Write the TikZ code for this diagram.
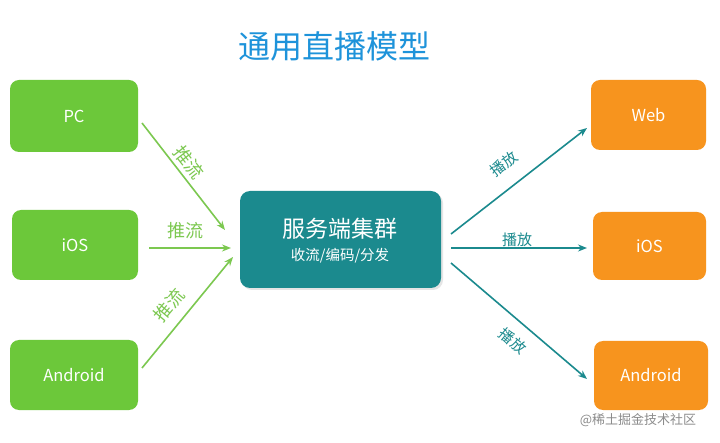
\documentclass[tikz,border=0pt]{standalone}
\usepackage{fontspec}
\setmainfont{Noto Sans CJK SC}
\usetikzlibrary{arrows.meta}
\definecolor{gbox}{HTML}{6CC83A}
\definecolor{garrow}{HTML}{7CC850}
\definecolor{tbox}{HTML}{1B8A8E}
\definecolor{obox}{HTML}{F7941E}
\definecolor{tblue}{HTML}{1E93DA}
\begin{document}
\begin{tikzpicture}[x=1pt,y=-1pt,
  dev/.style={rounded corners=9pt, inner sep=0pt, text=white, font=\fontsize{16.5}{18}\selectfont},
  gdev/.style={dev, fill=gbox},
  odev/.style={dev, fill=obox},
  push/.style={draw=garrow, line width=1.6pt, -{Stealth[length=9pt,width=7pt]}},
  play/.style={draw=tbox, line width=1.6pt, -{Stealth[length=9pt,width=7pt]}},
  plab/.style={text=garrow, inner sep=1pt, font=\fontsize{18}{20}\selectfont},
  tlab/.style={text=tbox, inner sep=1pt, font=\fontsize{15}{17}\selectfont}]
\useasboundingbox (0,0) rectangle (720,443);
\fill[white] (0,0) rectangle (720,443);
\node[text=tblue, font=\fontsize{32}{36}\selectfont] (title) at (334,46) {通用直播模型};
% left devices
\node[gdev, minimum width=128pt, minimum height=72pt] (pc) at (74,116) {PC};
\node[gdev, minimum width=126pt, minimum height=70pt] (ios1) at (75,245) {iOS};
\node[gdev, minimum width=128pt, minimum height=70pt] (and1) at (74,375) {Android};
% center
\fill[black!10, rounded corners=10pt] (242,193) rectangle (443,290);
\node[fill=tbox, rounded corners=10pt, minimum width=201pt, minimum height=97pt, inner sep=0pt] (srv) at (340.5,239.5) {};
\node[text=white, font=\fontsize{23}{25}\selectfont] (srvt) at (340,229) {服务端集群};
\node[text=white, font=\fontsize{14.5}{16}\selectfont] (srvs) at (340,256) {收流/编码/分发};
% right devices
\node[odev, minimum width=115pt, minimum height=70pt] (web) at (648.5,115) {Web};
\node[odev, minimum width=113pt, minimum height=68pt] (ios2) at (649.5,246) {iOS};
\node[odev, minimum width=114pt, minimum height=69pt] (and2) at (651,375.5) {Android};
% coordinates for arrows
\coordinate (p1s) at (142,123); \coordinate (p1e) at (225,230);
\coordinate (p2s) at (149,248); \coordinate (p2e) at (231,248);
\coordinate (p3s) at (142,368); \coordinate (p3e) at (233,257);
\coordinate (q1s) at (451,234); \coordinate (q1e) at (587,128);
\coordinate (q2s) at (451,248); \coordinate (q2e) at (587,248);
\coordinate (q3s) at (451,263); \coordinate (q3e) at (587,379);
\draw[push] (p1s) -- (p1e);
\draw[push] (p2s) -- (p2e);
\draw[push] (p3s) -- (p3e);
\draw[play] (q1s) -- (q1e);
\draw[play] (q2s) -- (q2e);
\draw[play] (q3s) -- (q3e);
\node[plab, rotate=-52] (l1) at (189,162) {推流};
\node[plab] (l2) at (185,231) {推流};
\node[plab, rotate=50] (l3) at (169,305) {推流};
\node[tlab, rotate=38] (r1) at (504,164) {播放};
\node[tlab] (r2) at (517,240) {播放};
\node[tlab, rotate=-40] (r3) at (513,341) {播放};
\node[text=black!45, font=\fontsize{13}{15}\selectfont] (wm) at (638,420) {@稀土掘金技术社区};
\end{tikzpicture}
\end{document}
